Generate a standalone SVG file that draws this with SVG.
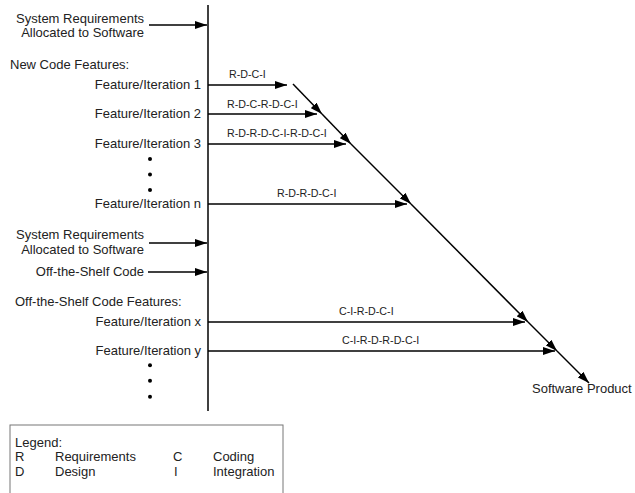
<svg xmlns="http://www.w3.org/2000/svg" width="635" height="493" viewBox="0 0 635 493">
<defs>
<marker id="ah" markerUnits="userSpaceOnUse" markerWidth="12" markerHeight="8" refX="12" refY="4" orient="auto">
<path d="M0,0 L12,4 L0,8 z" fill="#000"/>
</marker>
<style>
text{font-family:"Liberation Sans",Arial,sans-serif;fill:#222}
.m{font-size:13px}
.r{text-anchor:end}
.s{font-size:10.7px}
.ln{stroke:#000;stroke-width:1.5;fill:none}
.ar{stroke:#000;stroke-width:1.5;fill:none;marker-end:url(#ah)}
.dot{fill:#000}
</style>
</defs>
<rect width="635" height="493" fill="#fff"/>

<g id="connectors">
<line class="ln" x1="208" y1="5" x2="208" y2="411"/>
<line class="ar" x1="149" y1="25" x2="207" y2="25"/>
<line class="ar" x1="149" y1="243" x2="207" y2="243"/>
<line class="ar" x1="148" y1="272" x2="207" y2="272"/>
<line class="ar" x1="208" y1="85" x2="287" y2="85"/>
<line class="ar" x1="208" y1="114" x2="317" y2="114"/>
<line class="ar" x1="208" y1="144" x2="346" y2="144"/>
<line class="ar" x1="208" y1="204" x2="407" y2="204"/>
<line class="ar" x1="208" y1="322" x2="525" y2="322"/>
<line class="ar" x1="208" y1="351" x2="555" y2="351"/>
<line class="ar" x1="293" y1="84" x2="322" y2="114"/>
<line class="ar" x1="322" y1="114" x2="351" y2="144"/>
<line class="ar" x1="351" y1="144" x2="411" y2="204"/>
<line class="ar" x1="411" y1="204" x2="528" y2="322"/>
<line class="ar" x1="528" y1="322" x2="557" y2="351"/>
<line class="ar" x1="557" y1="351" x2="589" y2="383"/>
<text class="s" x="229" y="77.5">R-D-C-I</text>
<text class="s" x="227" y="107.5">R-D-C-R-D-C-I</text>
<text class="s" x="227" y="137">R-D-R-D-C-I-R-D-C-I</text>
<text class="s" x="277" y="196.5">R-D-R-D-C-I</text>
<text class="s" x="339" y="315">C-I-R-D-C-I</text>
<text class="s" x="342" y="344">C-I-R-D-R-D-C-I</text>
</g>

<g id="sysreq1">
<text class="m r" x="144" y="23">System Requirements</text>
<text class="m r" x="144" y="37">Allocated to Software</text>
</g>
<g id="newcode">
<text class="m" x="10" y="69">New Code Features:</text>
</g>
<g id="feat1"><text class="m r" x="201" y="88.5">Feature/Iteration 1</text></g>
<g id="feat2"><text class="m r" x="201" y="117.5">Feature/Iteration 2</text></g>
<g id="feat3"><text class="m r" x="201" y="147.5">Feature/Iteration 3</text></g>
<g id="dots1">
<circle class="dot" cx="150" cy="159" r="2"/>
<circle class="dot" cx="150" cy="174.5" r="2"/>
<circle class="dot" cx="150" cy="190" r="2"/>
</g>
<g id="featn"><text class="m r" x="201" y="207.5">Feature/Iteration n</text></g>
<g id="sysreq2">
<text class="m r" x="144" y="239">System Requirements</text>
<text class="m r" x="144" y="254">Allocated to Software</text>
</g>
<g id="ots"><text class="m r" x="144" y="276">Off-the-Shelf Code</text></g>
<g id="otsfeat"><text class="m" x="15" y="306">Off-the-Shelf Code Features:</text></g>
<g id="featx"><text class="m r" x="201" y="326">Feature/Iteration x</text></g>
<g id="featy"><text class="m r" x="201" y="355">Feature/Iteration y</text></g>
<g id="dots2">
<circle class="dot" cx="150" cy="365.3" r="2"/>
<circle class="dot" cx="150" cy="380.7" r="2"/>
<circle class="dot" cx="150" cy="396.7" r="2"/>
</g>
<g id="product"><text class="m" x="532" y="393">Software Product</text></g>

<g id="legend">
<rect x="10" y="425" width="273" height="80" fill="none" stroke="#777" stroke-width="1"/>
<text class="m" x="15" y="447">Legend:</text>
<text class="m" x="15" y="461">R</text>
<text class="m" x="55" y="461">Requirements</text>
<text class="m" x="173" y="461">C</text>
<text class="m" x="213" y="461">Coding</text>
<text class="m" x="15" y="476">D</text>
<text class="m" x="55" y="476">Design</text>
<text class="m" x="174" y="476">I</text>
<text class="m" x="213" y="476">Integration</text>
</g>
</svg>
